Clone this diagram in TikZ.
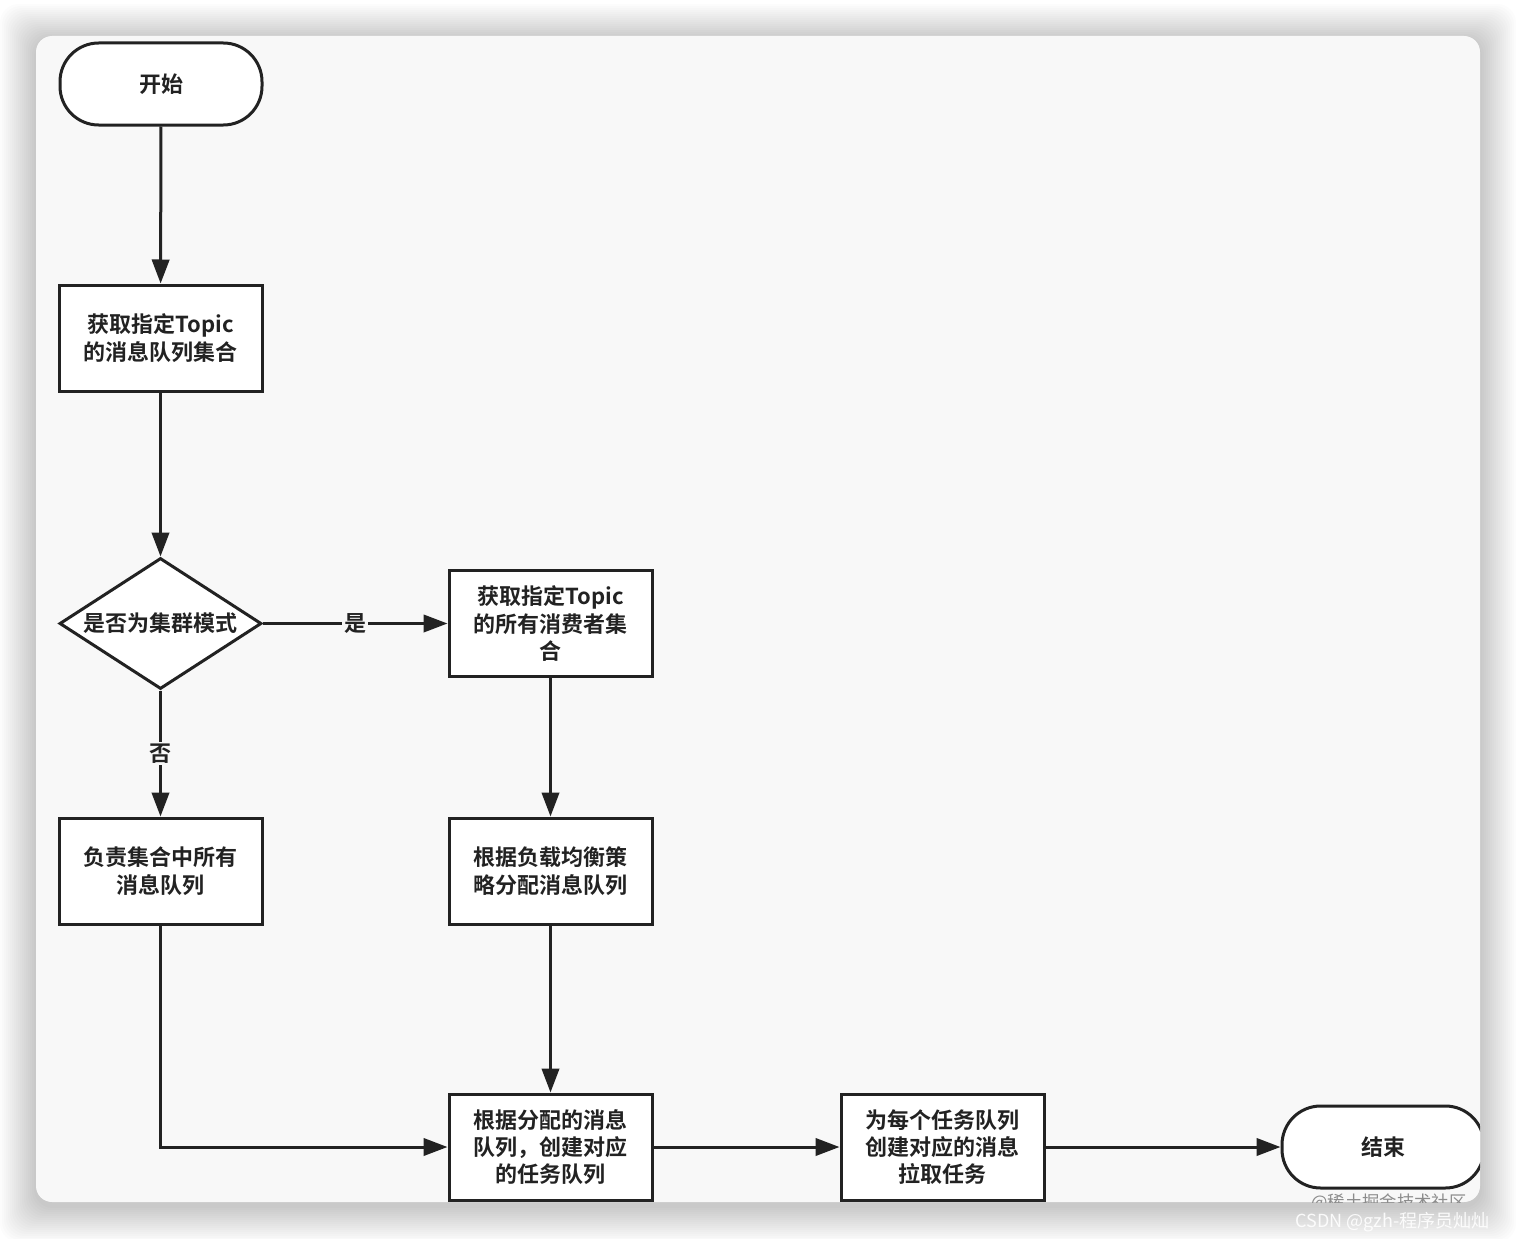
\documentclass[tikz,border=0pt]{standalone}
\usepackage{fontspec}
\setmainfont{Noto Sans CJK SC}[UprightFont=* Medium, BoldFont=* Bold]
\newfontfamily\markfont{Noto Sans CJK SC}
\usetikzlibrary{shapes.geometric,arrows.meta,positioning}

\definecolor{panelgray}{RGB}{248,248,248}
\definecolor{inkgray}{RGB}{34,34,34}

\tikzset{every picture/.style={line width=2.25pt}}
\tikzset{
  cjktext/.style={font=\fontsize{16.5}{20.5}\selectfont\bfseries, text=inkgray},
  terminal/.style={cjktext, draw=inkgray, fill=white, rounded corners=29pt,
    minimum width=151.5pt, minimum height=61.5pt, inner sep=0pt},
  procbox/.style={cjktext, draw=inkgray, fill=white, align=center,
    minimum width=152.25pt, minimum height=79.5pt, inner sep=0pt},
  decision/.style={draw=inkgray, fill=white, diamond,
    minimum width=151.5pt, minimum height=98.25pt, inner sep=0pt},
  flow/.style={draw=inkgray, -{Triangle[length=18pt,width=13pt]}},
  branch/.style={cjktext, fill=panelgray, inner sep=1.5pt}
}

\begin{document}
\begin{tikzpicture}[x=0.75pt,y=0.75pt,yscale=-1,xscale=1]
  \useasboundingbox (0,0) rectangle (1516,1238);
  \fill[white] (0,0) rectangle (1516,1238);

  % panel shadow
  \foreach \d in {2,4,...,36}
    \fill[black, opacity=0.012, rounded corners=14pt] ({36-\d},{40-\d}) rectangle ({1480+\d},{1206+\d});
  % panel
  \fill[panelgray, rounded corners=12pt] (36,36) rectangle (1480,1202);

  \begin{scope}
    \clip[rounded corners=12pt] (36,36) rectangle (1480,1202);

    % Nodes
    \node[terminal] (start) at (161,84) {开始};
    \node[procbox] (topicq) at (160.5,338) {获取指定Topic\\的消息队列集合};
    \node[decision, label={[name=modetxt, cjktext]center:是否为集群模式}] (mode) at (160.5,623.5) {};
    \node[procbox] (consumers) at (550.5,623.5) {获取指定Topic\\的所有消费者集\\合};
    \node[procbox] (allq) at (160.5,871) {负责集合中所有\\消息队列};
    \node[procbox] (balance) at (550.5,871) {根据负载均衡策\\略分配消息队列};
    \node[procbox] (tasks) at (550.5,1147) {根据分配的消息\\队列，创建对应\\的任务队列};
    \node[procbox] (pulls) at (942.5,1147) {为每个任务队列\\创建对应的消息\\拉取任务};
    \node[terminal] (finish) at (1383,1147) {结束};

    % Connectors
    \draw[flow] (start) -- (topicq);
    \draw[flow] (topicq) -- (mode);
    \draw[flow] (mode) -- node[branch] (yes) {是} (consumers);
    \draw[flow] (mode) -- node[branch] (no) {否} (allq);
    \draw[flow] (consumers) -- (balance);
    \draw[flow] (balance) -- (tasks);
    \draw[flow] (allq) |- (tasks);
    \draw[flow] (tasks) -- (pulls);
    \draw[flow] (pulls) -- (finish);

    % watermark under the panel edge
    \node[font=\markfont\fontsize{13}{15}\selectfont, text=black!45, anchor=north west, inner sep=0pt] (juejin) at (1310,1192) {@稀土掘金技术社区};
  \end{scope}

  \node[font=\markfont\fontsize{13.5}{16}\selectfont, text=white, opacity=0.9, anchor=west, inner sep=0pt] (csdn) at (1294,1222) {CSDN @gzh-程序员灿灿};
\end{tikzpicture}
\end{document}
